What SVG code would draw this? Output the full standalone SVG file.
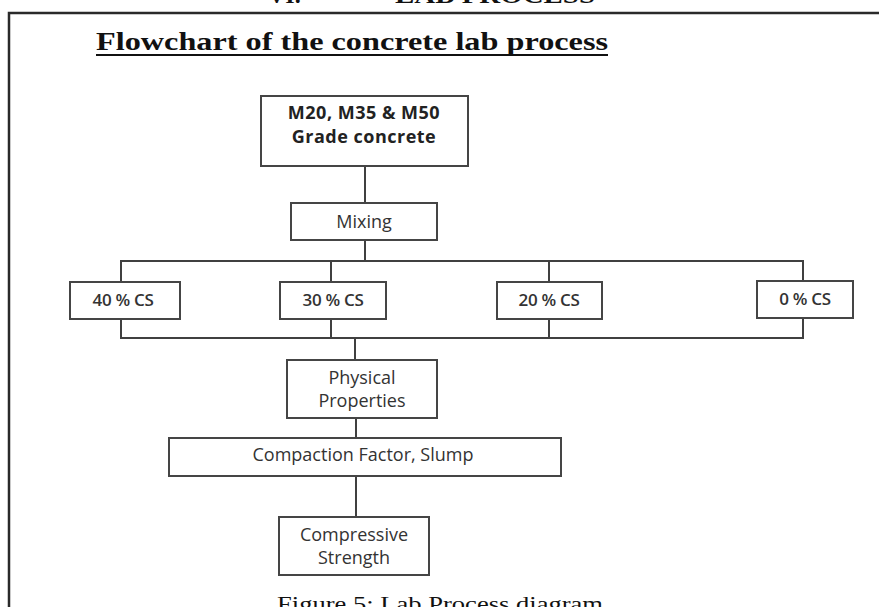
<svg xmlns="http://www.w3.org/2000/svg" width="879" height="607" viewBox="0 0 879 607">
<style>
.box{fill:#fff;stroke:#454545;stroke-width:2}
.ln{fill:none;stroke:#404040;stroke-width:2}
.t{font-family:"Open Sans",Lato,"Liberation Sans",sans-serif;font-size:18px;fill:#333;text-anchor:middle}
.t.cs{font-size:17px;font-weight:600;letter-spacing:-0.3px}
.tb{font-family:"Open Sans",Lato,"Liberation Sans",sans-serif;font-size:18px;font-weight:bold;fill:#222;text-anchor:middle;letter-spacing:0.5px}
.serif{font-family:"Liberation Serif","Times New Roman",serif;fill:#111}
</style>
<rect width="879" height="607" fill="#fff"/>
<text class="serif" x="268" y="3" font-size="24" font-weight="bold">VI.</text>
<text class="serif" x="395" y="3" font-size="24" font-weight="bold" textLength="200" lengthAdjust="spacingAndGlyphs">LAB PROCESS</text>
<path d="M9 607 V13 H879" fill="none" stroke="#2a2a2a" stroke-width="2.5"/>
<g id="title">
<text class="serif" x="96" y="50" font-size="26" font-weight="bold" textLength="512" lengthAdjust="spacingAndGlyphs">Flowchart of the concrete lab process</text>
<line x1="96" y1="55" x2="608" y2="55" stroke="#111" stroke-width="2"/>
</g>
<g id="connectors">
<path class="ln" d="M365 166 V203"/>
<path class="ln" d="M365 240 V261"/>
<path class="ln" d="M121 282 V261 H803 V281"/>
<path class="ln" d="M331 261 V282"/>
<path class="ln" d="M549 261 V282"/>
<path class="ln" d="M121 319 V338 H803 V318"/>
<path class="ln" d="M331 319 V338"/>
<path class="ln" d="M549 319 V338"/>
<path class="ln" d="M355 338 V360"/>
<path class="ln" d="M356 418 V438"/>
<path class="ln" d="M356 476 V517"/>
</g>
<g id="grade">
<rect class="box" x="261" y="96" width="207" height="70"/>
<text class="tb" x="364" y="119">M20, M35 &amp; M50</text>
<text class="tb" x="364" y="143">Grade concrete</text>
</g>
<g id="mixing">
<rect class="box" x="291" y="203" width="146" height="37"/>
<text class="t" x="364" y="228" font-size="19">Mixing</text>
</g>
<g id="cs40">
<rect class="box" x="70" y="282" width="110" height="37"/>
<text class="t cs" x="123" y="306">40 % CS</text>
</g>
<g id="cs30">
<rect class="box" x="280" y="282" width="106" height="37"/>
<text class="t cs" x="333" y="306">30 % CS</text>
</g>
<g id="cs20">
<rect class="box" x="497" y="282" width="105" height="37"/>
<text class="t cs" x="549" y="306">20 % CS</text>
</g>
<g id="cs0">
<rect class="box" x="757" y="281" width="96" height="37"/>
<text class="t cs" x="805" y="305">0 % CS</text>
</g>
<g id="physical">
<rect class="box" x="287" y="360" width="150" height="58"/>
<text class="t" x="362" y="384">Physical</text>
<text class="t" x="362" y="407">Properties</text>
</g>
<g id="compaction">
<rect class="box" x="169" y="438" width="392" height="38"/>
<text class="t" x="363" y="461">Compaction Factor, Slump</text>
</g>
<g id="compressive">
<rect class="box" x="279" y="517" width="150" height="58"/>
<text class="t" x="354" y="541">Compressive</text>
<text class="t" x="354" y="564">Strength</text>
</g>
<text class="serif" x="277" y="611" font-size="22" textLength="326" lengthAdjust="spacingAndGlyphs">Figure 5: Lab Process diagram</text>
</svg>
